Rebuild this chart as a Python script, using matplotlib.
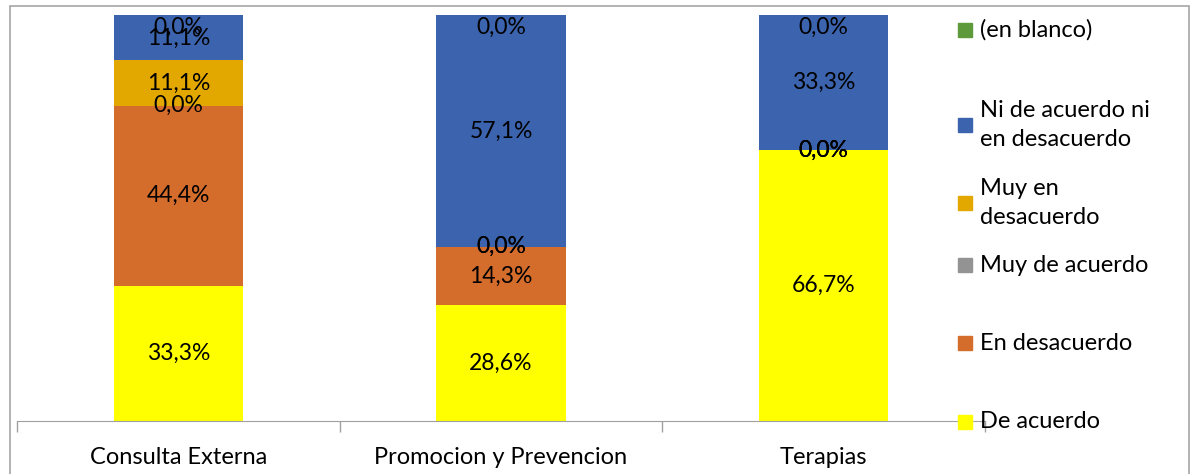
import matplotlib.pyplot as plt
from matplotlib.patches import Rectangle

plt.rcParams['font.family'] = ['Lato', 'DejaVu Sans']

# %% Data

categorias = ['Consulta Externa', 'Promocion y Prevencion', 'Terapias']
series = ['De acuerdo', 'En desacuerdo', 'Muy de acuerdo',
          'Muy en\ndesacuerdo', 'Ni de acuerdo ni\nen desacuerdo', '(en blanco)']

de_acuerdo        = [33.3, 28.6, 66.7]
en_desacuerdo     = [44.4, 14.3, 0.0]
muy_de_acuerdo    = [0.0, 0.0, 0.0]
muy_en_desacuerdo = [11.1, 0.0, 0.0]
ni_ni             = [11.1, 57.1, 33.3]
en_blanco         = [0.0, 0.0, 0.0]

valores = [de_acuerdo, en_desacuerdo, muy_de_acuerdo,
           muy_en_desacuerdo, ni_ni, en_blanco]
colores = ['#FFFF00', '#D46C2C', '#939393', '#E2A800', '#3C64AE', '#5E9A3C']

# %% Figure

fig = plt.figure(figsize=(11.92, 4.74), dpi=100)
W, H = 1192, 474
ax = fig.add_axes([17 / W, 1 - 421 / H, (985 - 17) / W, (421 - 15) / H])

x = range(len(categorias))
base = [0.0] * len(categorias)
for vals, col in zip(valores, colores):
    ax.bar(x, vals, bottom=base, width=0.4, color=col, edgecolor='none')
    for i, v in enumerate(vals):
        yc = min(base[i] + v / 2, 97)
        ax.text(i, yc, f'{v:.1f}%'.replace('.', ','), ha='center', va='center',
                fontsize=16.5, color='black')
    base = [b + v for b, v in zip(base, vals)]

ax.set_xlim(-0.5, 2.5)
ax.set_ylim(0, 100)
ax.set_yticks([])
ax.set_xticks(list(x))
ax.set_xticklabels(categorias, fontsize=17)
ax.tick_params(axis='x', which='major', length=0, pad=19)
ax.set_xticks([-0.5, 0.5, 1.5, 2.5], minor=True)
ax.tick_params(axis='x', which='minor', length=8, color='#a0a0a0', width=1)
for s in ['top', 'left', 'right']:
    ax.spines[s].set_visible(False)
ax.spines['bottom'].set_color('#a0a0a0')
ax.patch.set_alpha(0)

# %% Legend drawn by hand (uneven spacing from wrapped labels)

leg_y = [30, 125, 203, 265, 343, 422]
for lab, col, yp in zip(series[::-1], colores[::-1], leg_y):
    fig.patches.append(Rectangle((958 / W, 1 - (yp + 7) / H), 14 / W, 14 / H,
                                 transform=fig.transFigure, color=col))
    fig.text(980 / W, 1 - yp / H, lab, fontsize=17, va='center', ha='left',
             linespacing=1.5)

# chart border
fig.patches.append(Rectangle((10 / W, -0.05), 1179 / W, 1.05 - 6 / H,
                             transform=fig.transFigure, fill=False,
                             edgecolor='#a6a6a6', linewidth=1.2))

fig.savefig('out.png', dpi=100)
